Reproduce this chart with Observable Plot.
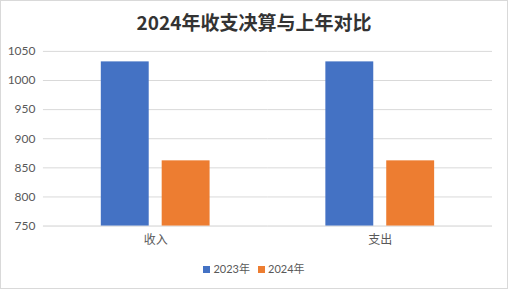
<!DOCTYPE html>
<html>
<head>
<meta charset="utf-8">
<script src="https://cdn.jsdelivr.net/npm/d3@7"></script>
<script src="https://cdn.jsdelivr.net/npm/@observablehq/plot@0.6"></script>
<style>
  html, body { margin: 0; padding: 0; background: #fff; }
  #wrap { position: relative; width: 508px; height: 289px; box-sizing: border-box; border: 1px solid #d9d9d9; overflow: hidden; font-family: Lato, "Noto Sans CJK SC", sans-serif; }
  #title { position: absolute; left: 0; right: 0; top: 8px; text-align: center; font: bold 19px "Noto Sans CJK SC", sans-serif; color: #333; line-height: 26px; }
  #chart { position: absolute; left: -1px; top: -1px; }
  #legend { position: absolute; left: 0; right: 0; top: 260px; text-align: center; font: 11px Lato, "Noto Sans CJK SC", sans-serif; color: #595959; line-height: 16px; }
  .sw { display: inline-block; width: 7px; height: 7px; margin-right: 3px; vertical-align: 0px; }
  .item { display: inline-block; margin: 0 4px; }
</style>
</head>
<body>
<div id="wrap">
  <div id="chart"></div>
  <div id="title">2024年收支决算与上年对比</div>
  <div id="legend"></div>
</div>
<script>
const categories = ["收入", "支出"];
const seriesNames = ["2023年", "2024年"];
const values2023 = [1032, 1032];
const values2024 = [862, 862];
const yTicks = [750, 800, 850, 900, 950, 1000, 1050];
const colors = ["#4472C4", "#ED7D31"];

const data = [];
categories.forEach((c, i) => {
  data.push({cat: c, series: seriesNames[0], value: values2023[i]});
  data.push({cat: c, series: seriesNames[1], value: values2024[i]});
});

const chart = Plot.plot({
  width: 508,
  height: 289,
  marginTop: 51,
  marginBottom: 63,
  marginLeft: 43,
  marginRight: 15,
  style: {fontFamily: 'Lato, "Noto Sans CJK SC", sans-serif', fontSize: "12px", color: "#595959", background: "transparent"},
  fx: {domain: categories, paddingInner: 0, paddingOuter: 0, label: null},
  x: {domain: seriesNames, paddingInner: 0.213, paddingOuter: 0.95, axis: null},
  y: {domain: [750, 1050], label: null},
  color: {domain: seriesNames, range: colors},
  marks: [
    Plot.ruleY(yTicks.filter(d => d > 750), {stroke: "#d9d9d9", strokeWidth: 1}),
    Plot.ruleY([750], {stroke: "#d0d0d0", strokeWidth: 1}),
    Plot.axisY({ticks: yTicks, tickFormat: d => String(d), tickSize: 0, tickPadding: 8, fill: "#595959", fontSize: 12, label: null}),
    Plot.axisFx({anchor: "bottom", tickSize: 0, tickPadding: 9, fill: "#595959", fontSize: 12, label: null, fontFamily: '"Noto Sans CJK SC", sans-serif'}),
    Plot.barY(data, {fx: "cat", x: "series", y1: 750, y2: "value", fill: "series"})
  ]
});
document.getElementById("chart").appendChild(chart);

const legend = document.getElementById("legend");
seriesNames.forEach((s, i) => {
  const item = document.createElement("span");
  item.className = "item";
  const sw = document.createElement("span");
  sw.className = "sw";
  sw.style.background = colors[i];
  item.appendChild(sw);
  item.appendChild(document.createTextNode(s));
  legend.appendChild(item);
});
</script>
</body>
</html>
